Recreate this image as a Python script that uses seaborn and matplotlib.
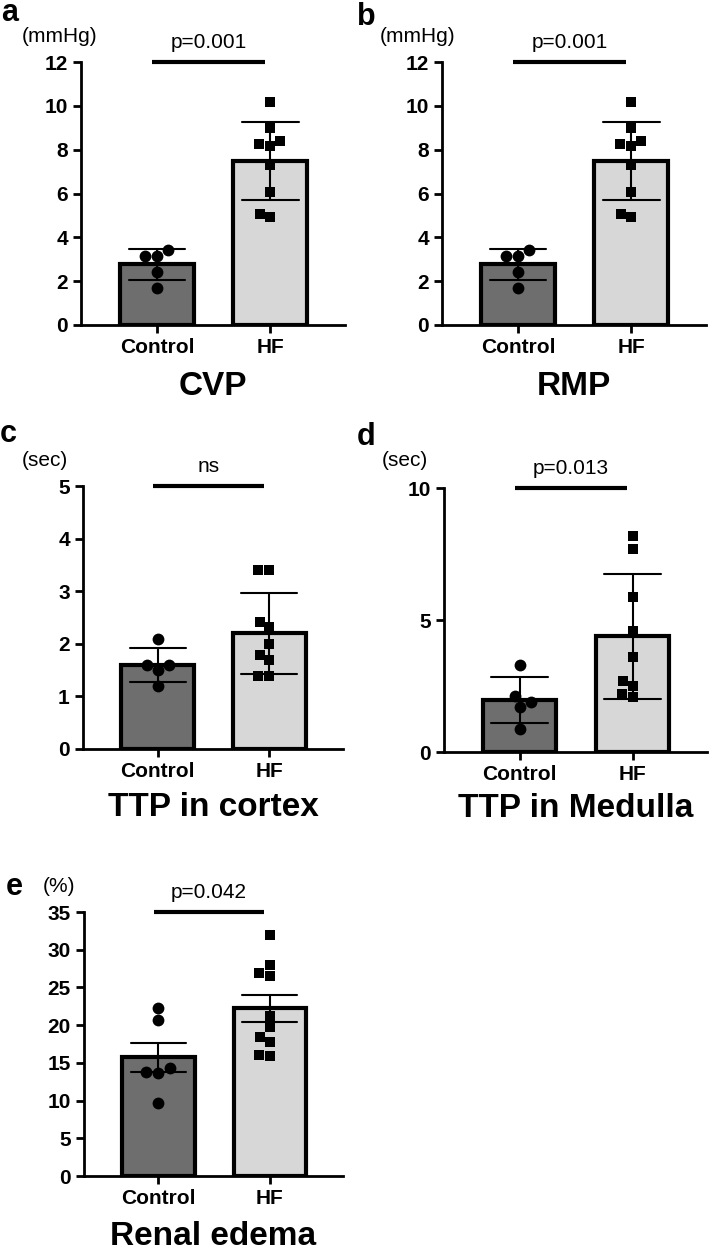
import matplotlib
matplotlib.use("Agg")
import matplotlib.pyplot as plt
import seaborn as sns
import pandas as pd

groups = ["Control", "HF"]

cvp_control = [3.17, 3.4, 3.17, 2.44, 1.68]
cvp_hf = [10.17, 9.0, 8.18, 8.38, 8.27, 7.28, 6.06, 4.95, 5.06]
rmp_control = [3.17, 3.4, 3.17, 2.44, 1.68]
rmp_hf = [10.17, 9.0, 8.18, 8.38, 8.27, 7.28, 6.06, 4.95, 5.06]
cortex_control = [2.1, 1.6, 1.6, 1.5, 1.2]
cortex_hf = [3.4, 3.4, 2.41, 2.31, 2.0, 1.79, 1.7, 1.39, 1.39]
medulla_control = [3.28, 2.11, 1.89, 1.7, 0.88]
medulla_hf = [8.18, 7.7, 5.87, 4.58, 3.6, 2.5, 2.69, 2.18, 2.08]
edema_control = [22.3, 20.7, 14.3, 13.6, 13.85, 9.73]
edema_hf = [31.9, 28.0, 26.9, 26.5, 21.15, 19.7, 18.4, 17.7, 15.9, 16.1]

sns.set_style("ticks")
plt.rcParams["font.family"] = ["Liberation Sans", "DejaVu Sans"]
plt.rcParams.update({"text.color": "black", "axes.labelcolor": "black",
                     "xtick.color": "black", "ytick.color": "black",
                     "axes.edgecolor": "black"})

W, H = 709, 1254
fig = plt.figure(figsize=(W / 100, H / 100), dpi=100)


def px(x, y):
    return x / W, 1 - y / H


def panel(left, top, bottom, right, ctrl, hf, err, ymax, step, title, ptext, pad):
    ax = fig.add_axes([left / W, 1 - bottom / H, (right - left) / W, (bottom - top) / H])
    df = pd.DataFrame({"group": ["Control"] * len(ctrl) + ["HF"] * len(hf),
                       "value": ctrl + hf})
    sns.barplot(data=df, x="group", y="value", hue="group", order=groups, hue_order=groups,
                palette=["#6e6e6e", "#d7d7d7"], errorbar=err, capsize=0.5,
                err_kws={"color": "black", "linewidth": 1.5}, edgecolor="black",
                linewidth=3, width=0.65, legend=False, ax=ax)
    sns.swarmplot(data=df[df.group == "Control"], x="group", y="value", order=groups,
                  color="black", marker="o", size=8.5, ax=ax)
    sns.swarmplot(data=df[df.group == "HF"], x="group", y="value", order=groups,
                  color="black", marker="s", size=7.5, ax=ax)
    ax.set_xlim(-0.67, 1.66)
    ax.set_ylim(0, ymax)
    ax.set_yticks(range(0, ymax + 1, step))
    sns.despine(ax=ax)
    for s in ["left", "bottom"]:
        ax.spines[s].set_linewidth(2)
    ax.tick_params(width=2, length=6, labelsize=15)
    for lab in ax.get_xticklabels() + ax.get_yticklabels():
        lab.set_fontweight("bold")
    ax.set_ylabel("")
    ax.set_xlabel(title, fontsize=24, fontweight="bold", labelpad=pad)
    ax.plot([-0.04, 0.95], [ymax, ymax], color="black", lw=3, clip_on=False,
            solid_capstyle="butt")
    ax.annotate(ptext, xy=(0.455, ymax), xytext=(0, 10), textcoords="offset points",
                ha="center", va="baseline", fontsize=15)
    return ax


panel(81, 62, 325, 345, cvp_control, cvp_hf, "sd", 12, 2, "CVP", "p=0.001", 10)
panel(442, 62, 325, 706, rmp_control, rmp_hf, "sd", 12, 2, "RMP", "p=0.001", 10)
panel(83, 486, 749, 343, cortex_control, cortex_hf, "sd", 5, 1, "TTP in cortex", "ns", 8)
panel(444, 488, 752, 707, medulla_control, medulla_hf, "sd", 10, 5, "TTP in Medulla", "p=0.013", 6)
panel(84, 912, 1176, 343, edema_control, edema_hf, "se", 35, 5, "Renal edema", "p=0.042", 9)

# units
for x, y, t in [(60, 37, "(mmHg)"), (418, 37, "(mmHg)"), (45, 461, "(sec)"),
                (405, 461, "(sec)"), (59, 887, "(%)")]:
    fig.text(*px(x, y), t, ha="center", va="center", fontsize=15)

# panel letters
for x, y, t in [(1, 21, "a"), (357, 25, "b"), (0, 442, "c"), (357, 445, "d"), (6, 895, "e")]:
    fig.text(*px(x, y), t, ha="left", va="baseline", fontsize=22, fontweight="bold")

fig.savefig("out.png", dpi=100)
